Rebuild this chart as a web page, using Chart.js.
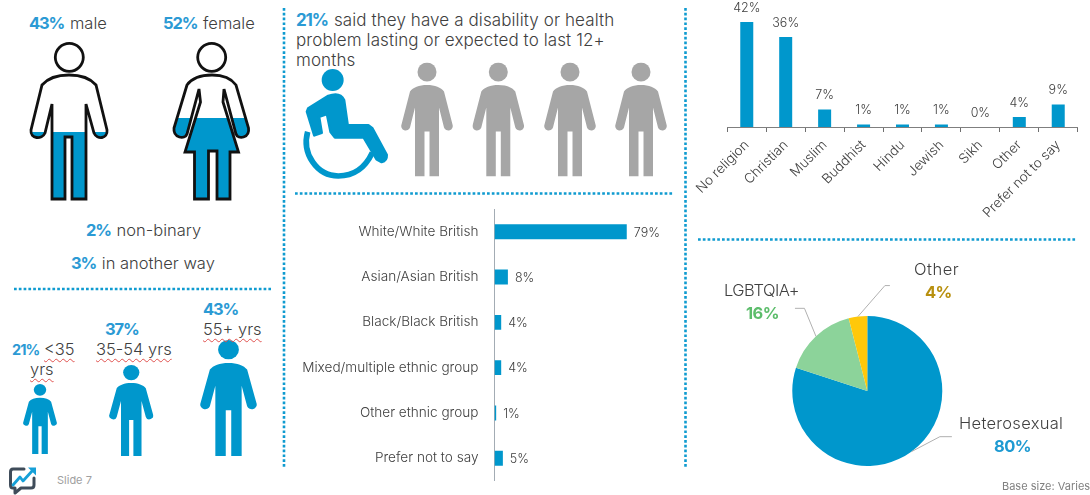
<!DOCTYPE html>
<html>
<head>
<meta charset="utf-8">
<title>Slide 7</title>
<script src="https://cdn.jsdelivr.net/npm/chart.js@4/dist/chart.umd.js"></script>
<style>
  html, body { margin: 0; padding: 0; background: #fff; }
  #slide { position: relative; width: 1090px; height: 495px; overflow: hidden; font-family: Inter, sans-serif; color: #404040; }
  #slide canvas, #slide svg { position: absolute; }
  .t { position: absolute; white-space: nowrap; transform: translateY(-50%); font-size: 16.5px; line-height: 20px; font-weight: 300; }
  .t b { font-weight: 700; color: #2b9ad4; letter-spacing: -1.1px; margin-right: 1px; }
  .num { font-weight: 700; letter-spacing: -.6px; }
  .squiggle { text-decoration: underline wavy #e0524f 1px; text-underline-offset: 3px; text-decoration-skip-ink: none; }
</style>
</head>
<body>
<div id="slide">
  <svg id="art" width="1090" height="495" viewBox="0 0 1090 495">
    <defs>
      <path id="personBody" d="M26 22.5C18 22.5 12 25 9 29L.5 62A4.5 4.5 0 0 0 9 65L14 45V114H23.5V69H28.5V114H38V45L43 65A4.5 4.5 0 0 0 51.5 62L43 29C40 25 34 22.5 26 22.5Z"/>
      <symbol id="person" viewBox="0 0 52 114" preserveAspectRatio="none">
        <circle cx="26" cy="9.5" r="9.5"/>
        <use href="#personBody"/>
      </symbol>
      <clipPath id="maleFill"><rect id="maleLevel" x="20" width="100" height="200"/></clipPath>
      <clipPath id="femaleFill"><rect id="femaleLevel" x="165" width="100" height="200"/></clipPath>
      <path id="maleOutline" d="M69 75C58 75 48 78 42 85L31 130C30 139 42 140 45 133L52 104V199H65V137H72V199H86V104L94 133C97 140 108 139 107 130L96 85C90 78 80 75 69 75Z"/>
      <path id="femaleOutline" d="M212 75C201 75 192 78 187 85L174 128C173 138 185 140 187 134L199 89L200.500 102L185 152H194.500V199H208.500V151H217V199H230V152H238.500L223 102L224 89L236 134C238 140 250 138 248.500 128L236 85C231 78 222 75 212 75Z"/>
    </defs>

    <!-- section dividers -->
    <g stroke="#0f9bd0" stroke-width="2.6" stroke-dasharray="2.7 2.1" fill="none">
      <path d="M14 289H271"/>
      <path d="M284 8V467"/>
      <path d="M295 193.5H674"/>
      <path d="M685.5 8V468"/>
      <path d="M698 239.5H1077"/>
    </g>

    <!-- gender outlines, filled up to their share -->
    <use href="#maleOutline" fill="#0097cc" clip-path="url(#maleFill)"/>
    <use href="#femaleOutline" fill="#0097cc" clip-path="url(#femaleFill)"/>
    <g fill="none" stroke="#111" stroke-width="2.8" stroke-linejoin="miter">
      <circle cx="69.3" cy="57.3" r="14"/>
      <circle cx="211.7" cy="57.3" r="14"/>
      <use href="#maleOutline"/>
      <use href="#femaleOutline"/>
    </g>

    <!-- age figures -->
    <g fill="#0097cc">
      <use href="#person" x="23" y="384" width="34" height="70"/>
      <use href="#person" x="109" y="365" width="44.5" height="91"/>
      <use href="#person" x="200" y="340" width="57" height="116"/>
    </g>

    <!-- disability row -->
    <g fill="#a6a6a6">
      <use href="#person" x="401" y="62.5" width="52" height="114"/>
      <use href="#person" x="472.3" y="62.5" width="52" height="114"/>
      <use href="#person" x="544" y="62.5" width="52" height="114"/>
      <use href="#person" x="615" y="62.5" width="52" height="114"/>
    </g>
    <g transform="translate(285 0) scale(.3333)" fill="#0097cc">
      <circle cx="143" cy="240" r="33"/>
      <path stroke="#0097cc" stroke-width="8" stroke-linejoin="round" d="M70 325L130 288Q165 275 177 300L188 376H250L262 385L305 465Q306 482 290 486L275 478L236 412H150L137 396L126 342L102 350L110 398L88 406L66 335Z"/>
      <path fill="none" stroke="#0097cc" stroke-width="17" d="M68 395C50 460 95 528 160 528C205 528 240 505 262 458"/>
    </g>

    <!-- logo -->
    <g fill="none" stroke-linejoin="round" stroke-linecap="round">
      <path stroke="#3f4c5a" stroke-width="3" d="M24 469H13Q10.500 469 10.500 472V485Q10.500 488 13 488H15V493L21 488H31Q34 488 34 485V478"/>
      <path stroke="#16a0d8" stroke-width="2.8" d="M13 485L20 477L23 481L33 470"/>
      <path fill="#16a0d8" d="M28 467.500H36V475.500Z"/>
    </g>
  </svg>

  <canvas id="ethnicityChart" width="390" height="320" style="left:290px;top:185px"></canvas>
  <canvas id="religionChart" width="405" height="240" style="left:685px;top:0"></canvas>
  <canvas id="sexualityChart" width="400" height="250" style="left:690px;top:245px"></canvas>
  <div id="labels"></div>
</div>

<script>
// --- Values shown on the slide ---
const genderLabels = ['male', 'female', 'non-binary', 'in another way'];
const genderValues = [43, 52, 2, 3];

const ageLabels = ['<35', '35-54 yrs', '55+ yrs'];
const ageValues = [21, 37, 43];

const disabilityValue = 21;

const ethnicityLabels = ['White/White British', 'Asian/Asian British', 'Black/Black British', 'Mixed/multiple ethnic group', 'Other ethnic group', 'Prefer not to say'];
const ethnicityValues = [79, 8, 4, 4, 1, 5];

const religionLabels = ['No religion', 'Christian', 'Muslim', 'Buddhist', 'Hindu', 'Jewish', 'Sikh', 'Other', 'Prefer not to say'];
const religionValues = [42, 36, 7, 1, 1, 1, 0, 4, 9];

const sexualityLabels = ['Heterosexual', 'LGBTQIA+', 'Other'];
const sexualityValues = [80, 16, 4];
const sexualityColors = ['#0097cc', '#8cd39a', '#ffc80a'];

const BLUE = '#0097cc';
const TEXT = '#404040';
const FONT = 'Inter, sans-serif';

// --- Figure fill levels: head top at y=43, feet at y=199 ---
function fillLevel(id, value) {
    const top = 199 - 156 * value / 100;
    document.getElementById(id).setAttribute('y', top);
}
fillLevel('maleLevel', genderValues[0]);
fillLevel('femaleLevel', genderValues[1]);

// --- HTML text blocks ---
function addText(html, x, y, style) {
    const el = document.createElement('div');
    el.className = 't';
    el.innerHTML = html;
    el.style.left = x + 'px';
    el.style.top = y + 'px';
    if (style) el.style.cssText += style;
    document.getElementById('labels').appendChild(el);
    return el;
}
const esc = s => s.replace('<', '&lt;');

addText(`<b>${genderValues[0]}%</b> ${genderLabels[0]}`, 29, 23);
addText(`<b>${genderValues[1]}%</b> ${genderLabels[1]}`, 163, 23);
addText(`<b>${genderValues[2]}%</b> ${genderLabels[2]}`, 86, 230);
addText(`<b>${genderValues[3]}%</b> ${genderLabels[3]}`, 71, 263);

addText(`<b style="font-size:14.5px;letter-spacing:-1px">${ageValues[0]}%</b>`, 12, 349);
addText(`<span class="squiggle">${esc(ageLabels[0])}</span>`, 44, 349);
addText('<span class="squiggle">yrs</span>', 30, 369);
addText(`<b>${ageValues[1]}%</b>`, 105, 329);
addText(`<span class="squiggle">${ageLabels[1]}</span>`, 96, 349);
addText(`<b>${ageValues[2]}%</b>`, 203, 309);
addText(`<span class="squiggle">${ageLabels[2]}</span>`, 203, 329);

const bodyStyle = 'font-size:17px;letter-spacing:.1px';
addText(`<b>${disabilityValue}%</b> said they have a disability or health`, 296, 20, bodyStyle);
addText('problem lasting or expected to last 12+', 296, 40, bodyStyle);
addText('months', 296, 60, bodyStyle);

addText('Slide 7', 57, 480, 'font-size:11px;color:#a0a0a0;font-weight:400');
addText('Base size: Varies', 1002, 486, 'font-size:11px;color:#808080;font-weight:400');

addText(sexualityLabels[2], 914, 269, 'letter-spacing:.5px');
addText(`<span class="num">${sexualityValues[2]}%</span>`, 925, 292, 'color:#b8900f');
addText(sexualityLabels[1], 724, 290, 'letter-spacing:-.5px');
addText(`<span class="num">${sexualityValues[1]}%</span>`, 746, 313, 'color:#5cbd6b');
addText(sexualityLabels[0], 959, 423, 'letter-spacing:.3px');
addText(`<span class="num">${sexualityValues[0]}%</span>`, 994, 446, 'color:#1e9ad2');

// --- Value labels next to the bars ---
const percentLabels = {
    id: 'percentLabels',
    afterDatasetsDraw(chart) {
        const ctx = chart.ctx;
        const horizontal = chart.options.indexAxis === 'y';
        const values = chart.data.datasets[0].data;
        ctx.save();
        ctx.fillStyle = TEXT;
        ctx.font = '300 12.5px ' + FONT;
        ctx.textBaseline = 'middle';
        chart.getDatasetMeta(0).data.forEach((bar, i) => {
            if (horizontal) {
                ctx.textAlign = 'left';
                ctx.fillText(values[i] + '%', bar.x + 7, bar.y + 1);
            } else {
                ctx.textAlign = 'center';
                ctx.fillText(values[i] + '%', bar.x, bar.y - 14);
            }
        });
        ctx.restore();
    }
};

// --- Ethnicity bars ---
new Chart(document.getElementById('ethnicityChart'), {
    type: 'bar',
    data: {
        labels: ethnicityLabels,
        datasets: [{ data: ethnicityValues, backgroundColor: BLUE, categoryPercentage: 0.33, barPercentage: 1 }]
    },
    options: {
        indexAxis: 'y',
        responsive: false,
        animation: false,
        plugins: { legend: { display: false }, tooltip: { enabled: false } },
        scales: {
            x: { display: false, min: 0, max: 110.8 },
            y: {
                afterFit(scale) { scale.width = 204.5; },
                grid: { drawOnChartArea: false, drawTicks: false },
                border: { color: '#a3acb4', width: 1 },
                ticks: { color: TEXT, font: { family: FONT, size: 13.6, weight: 300 }, padding: 16 }
            }
        }
    },
    plugins: [percentLabels]
});

// --- Religion columns ---
new Chart(document.getElementById('religionChart'), {
    type: 'bar',
    data: {
        labels: religionLabels,
        datasets: [{ data: religionValues, backgroundColor: BLUE, categoryPercentage: 0.334, barPercentage: 1 }]
    },
    options: {
        responsive: false,
        animation: false,
        layout: { padding: { left: 42.3, right: 12.3 } },
        plugins: { legend: { display: false }, tooltip: { enabled: false } },
        scales: {
            y: { display: false, min: 0, max: 50.8 },
            x: {
                afterFit(scale) { scale.height = 113; },
                grid: { drawOnChartArea: false, drawTicks: true, tickLength: 5, color: '#6f6f6f' },
                border: { color: '#7f7f7f', width: 1 },
                ticks: { color: TEXT, font: { family: FONT, size: 13.5, weight: 300 }, minRotation: 45, maxRotation: 45, padding: 5, autoSkip: false }
            }
        }
    },
    plugins: [percentLabels]
});

// --- Leader lines from each slice's mid-angle out to its label ---
const leaderOffsets = [
    [[28.5, -15], [40.5, -15]],
    [[-11.5, -28], [-21, -28]],
    [[27, -31], [32, -31]]
];
const leaderLines = {
    id: 'leaderLines',
    afterDatasetsDraw(chart) {
        const ctx = chart.ctx;
        ctx.save();
        ctx.strokeStyle = '#b0b0b0';
        ctx.lineWidth = 1;
        chart.getDatasetMeta(0).data.forEach((arc, i) => {
            const mid = (arc.startAngle + arc.endAngle) / 2;
            const px = arc.x + Math.cos(mid) * arc.outerRadius;
            const py = arc.y + Math.sin(mid) * arc.outerRadius;
            ctx.beginPath();
            ctx.moveTo(px, py);
            leaderOffsets[i].forEach(p => ctx.lineTo(px + p[0], py + p[1]));
            ctx.stroke();
        });
        ctx.restore();
    }
};

// --- Sexual orientation pie ---
new Chart(document.getElementById('sexualityChart'), {
    type: 'pie',
    data: {
        labels: sexualityLabels,
        datasets: [{ data: sexualityValues, backgroundColor: sexualityColors, borderWidth: 0 }]
    },
    options: {
        responsive: false,
        animation: false,
        layout: { padding: { left: 102.3, right: 147.7, top: 71, bottom: 29 } },
        plugins: { legend: { display: false }, tooltip: { enabled: false } }
    },
    plugins: [leaderLines]
});
</script>
</body>
</html>
